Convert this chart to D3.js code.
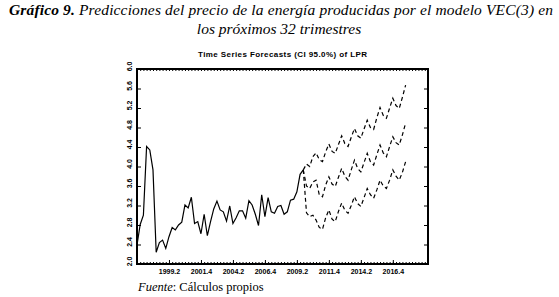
<!DOCTYPE html>
<html>
<head>
<meta charset="utf-8">
<script src="https://cdn.jsdelivr.net/npm/d3@7"></script>
<style>
	body { margin: 0; background: #fff; }
	.ttl { font-family: "Liberation Serif", "DejaVu Serif", serif; font-style: italic; font-size: 15.5px; fill: #000; }
	.sub { font-family: "Liberation Sans", Arial, sans-serif; font-size: 8px; font-weight: bold; fill: #000; }
	.tick text { font-family: "Liberation Sans", Arial, sans-serif; font-size: 7px; font-weight: bold; fill: #000; }
	.src { font-family: "Liberation Serif", serif; font-size: 12.5px; fill: #000; }
</style>
</head>
<body>
<div id="chart"></div>
<script>
var svgWidth = 559;
var svgHeight = 297;

// observed LPR, quarterly from 1996.4 (index 0) to 2009.4 (index 52)
var lprObs = [2.39, 2.81, 3.00, 4.41, 4.34, 3.93, 2.24, 2.44, 2.49, 2.32,
	2.56, 2.75, 2.70, 2.80, 2.86, 3.21, 3.15, 3.37, 2.83, 2.87,
	2.62, 3.02, 2.58, 2.87, 3.13, 3.29, 3.11, 3.07, 2.88, 3.19,
	2.83, 2.95, 3.09, 3.09, 2.94, 3.30, 3.21, 3.02, 2.79, 3.42,
	2.97, 3.36, 3.07, 3.04, 3.18, 3.20, 3.02, 3.07, 3.31, 3.33,
	3.48, 3.84, 3.93];

// forecasts, index 52 (last observation) to 84 (2017.4)
var fcUpper = [3.93, 4.05, 4.00, 4.20, 4.28, 4.14, 4.10, 4.30, 4.46, 4.31,
	4.27, 4.45, 4.63, 4.47, 4.41, 4.60, 4.78, 4.63, 4.58, 4.77,
	4.95, 4.80, 4.76, 5.00, 5.21, 5.05, 4.99, 5.20, 5.40, 5.25,
	5.19, 5.42, 5.67];
var fcMid = [3.93, 3.60, 3.55, 3.68, 3.72, 3.42, 3.38, 3.62, 3.79, 3.64,
	3.59, 3.78, 3.96, 3.80, 3.72, 3.93, 4.13, 3.96, 3.89, 4.08,
	4.27, 4.10, 4.03, 4.24, 4.44, 4.28, 4.20, 4.41, 4.61, 4.49,
	4.44, 4.65, 4.89];
var fcLower = [3.93, 3.05, 2.97, 3.00, 2.90, 2.75, 2.71, 2.95, 3.11, 2.92,
	2.87, 3.08, 3.25, 3.10, 3.04, 3.20, 3.38, 3.24, 3.18, 3.36,
	3.55, 3.42, 3.35, 3.52, 3.72, 3.60, 3.55, 3.72, 3.93, 3.80,
	3.72, 3.88, 4.10];

var xTickPos = [10, 20, 30, 40, 50, 60, 70, 80];
var xTickLabels = ["1999.2", "2001.4", "2004.2", "2006.4", "2009.2", "2011.4", "2014.2", "2016.4"];
var yTicks = [2.0, 2.4, 2.8, 3.2, 3.6, 4.0, 4.4, 4.8, 5.2, 5.6, 6.0];

var plot = { left: 137, right: 428, top: 69, bottom: 264 };

var svg = d3.select("#chart")
	.append("svg")
	.attr("width", svgWidth)
	.attr("height", svgHeight);

// caption
var cap = svg.append("text").attr("class", "ttl").attr("x", 9).attr("y", 15)
	.attr("textLength", 544).attr("lengthAdjust", "spacing");
cap.append("tspan").attr("font-weight", "bold").text("Gráfico 9.");
cap.append("tspan").text(" Predicciones del precio de la energía producidas por el modelo VEC(3) en");
svg.append("text").attr("class", "ttl").attr("x", 279).attr("y", 34)
	.attr("text-anchor", "middle")
	.text("los próximos 32 trimestres");

svg.append("text").attr("class", "sub")
	.attr("x", 198).attr("y", 57)
	.attr("textLength", 169).attr("lengthAdjust", "spacing")
	.text("Time Series Forecasts (CI 95.0%) of LPR");

var x = d3.scaleLinear().domain([0, 91]).range([plot.left, plot.right]);
var y = d3.scaleLinear().domain([2, 6]).range([plot.bottom, plot.top]);

var quarters = d3.range(0, 92);

// minor ticks on top and bottom edges (every quarter)
svg.append("g")
	.attr("transform", `translate(0, ${plot.bottom})`)
	.call(d3.axisBottom(x).tickValues(quarters).tickSize(-2).tickFormat(""))
	.call(g => g.select(".domain").remove());
svg.append("g")
	.attr("transform", `translate(0, ${plot.top})`)
	.call(d3.axisTop(x).tickValues(quarters).tickSize(-2).tickFormat(""))
	.call(g => g.select(".domain").remove());

// labelled x axis
svg.append("g")
	.attr("transform", `translate(0, ${plot.bottom})`)
	.call(d3.axisBottom(x).tickValues(xTickPos).tickSize(-4).tickPadding(5)
		.tickFormat((d, i) => xTickLabels[i]))
	.call(g => g.select(".domain").remove());

// y axes, inner ticks both sides
var yLeft = svg.append("g")
	.attr("transform", `translate(${plot.left}, 0)`)
	.call(d3.axisLeft(y).tickValues(yTicks).tickSize(-4).tickFormat(d3.format(".1f")))
	.call(g => g.select(".domain").remove());
yLeft.selectAll(".tick text")
	.attr("x", null).attr("dy", null)
	.attr("text-anchor", "middle")
	.attr("transform", "translate(-5, -3) rotate(-90)");

svg.append("g")
	.attr("transform", `translate(${plot.right}, 0)`)
	.call(d3.axisRight(y).tickValues(yTicks).tickSize(-4).tickFormat(""))
	.call(g => g.select(".domain").remove());

svg.selectAll(".tick line").attr("stroke", "#000");

// frame
svg.append("rect")
	.attr("x", plot.left).attr("y", plot.top)
	.attr("width", plot.right - plot.left).attr("height", plot.bottom - plot.top)
	.attr("fill", "none").attr("stroke", "#000").attr("stroke-width", 2);

var line = d3.line()
	.x(d => x(d.i))
	.y(d => y(d.v));

svg.append("path")
	.datum(lprObs.map((v, i) => ({ i: i, v: v })))
	.attr("d", line)
	.attr("fill", "none").attr("stroke", "#000").attr("stroke-width", 1.2);

[fcUpper, fcMid, fcLower].forEach(function(s) {
	svg.append("path")
		.datum(s.map((v, i) => ({ i: i + 52, v: v })))
		.attr("d", line)
		.attr("fill", "none").attr("stroke", "#000").attr("stroke-width", 1.2)
		.attr("stroke-dasharray", "4,3");
});

// source note
var src = svg.append("text").attr("class", "src").attr("x", 138).attr("y", 291);
src.append("tspan").attr("font-style", "italic").text("Fuente");
src.append("tspan").text(": Cálculos propios");
</script>
</body>
</html>
